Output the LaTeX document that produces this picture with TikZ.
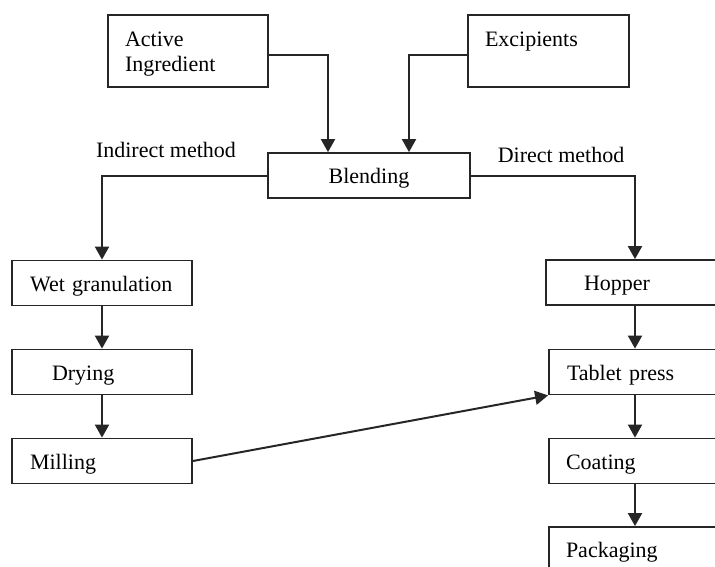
\documentclass[tikz,border=0pt]{standalone}
\usepackage{fontspec}
\setmainfont{Liberation Serif}
\usetikzlibrary{arrows.meta}
\begin{document}
\begin{tikzpicture}[x=1pt,y=-1pt,
    stagebox/.style={draw=black!85, line width=1.8pt, rectangle, inner sep=0pt,
      minimum width=180pt, minimum height=45pt, text width=180pt, align=left,
      text height=20pt, text depth=4pt, font=\fontsize{22}{25}\selectfont},
    twoline/.style={text height=20pt, text depth=30pt},
    flow/.style={draw=black!85, line width=2pt, -{Triangle[width=14pt,length=13pt]}},
    methodtag/.style={font=\fontsize{22}{25}\selectfont, inner sep=0pt}]
  \clip (0,0) rectangle (715,566);
  % inputs
  \node[stagebox, twoline, minimum width=160pt, minimum height=72pt, text width=160pt] (active) at (188,51)
    {\hspace*{17pt}Active\\\hspace*{17pt}Ingredient};
  \node[stagebox, twoline, minimum width=161pt, minimum height=72pt, text width=161pt] (excip) at (548.5,51)
    {\hspace*{17pt}Excipients\\\mbox{}};
  \node[stagebox, minimum width=202pt, text width=202pt, align=center] (blend) at (369,175.5) {Blending};
  % indirect route
  \node[stagebox] (wet) at (102,283) {\hspace*{18pt}Wet granulation};
  \node[stagebox] (dry) at (102,372) {\hspace*{40pt}Drying};
  \node[stagebox] (mill) at (102,461) {\hspace*{18pt}Milling};
  % direct route
  \node[stagebox, minimum width=178pt, text width=178pt] (hopper) at (635,282.5) {\hspace*{38pt}Hopper};
  \node[stagebox, minimum width=172pt, text width=172pt] (tablet) at (635,372) {\hspace*{18pt}Tablet press};
  \node[stagebox, minimum width=172pt, text width=172pt] (coat) at (635,461) {\hspace*{17pt}Coating};
  \node[stagebox, minimum width=172pt, text width=172pt] (pack) at (635,549.5) {\hspace*{17pt}Packaging};
  \node[methodtag] (indirect) at (166,150) {Indirect method};
  \node[methodtag] (direct) at (561,155) {Direct method};
  % connectors
  \draw[flow] ([yshift=-4pt]active.east) -| ([xshift=-41pt]blend.north);
  \draw[flow] ([yshift=-4pt]excip.west) -| ([xshift=40pt]blend.north);
  \draw[flow] (blend.west) -| (wet.north);
  \draw[flow] (blend.east) -| (hopper.north);
  \draw[flow] (wet) -- (dry);
  \draw[flow] (dry) -- (mill);
  \draw[flow] (hopper) -- (tablet);
  \draw[flow] (tablet) -- (coat);
  \draw[flow] (coat) -- (pack);
  \draw[flow] (mill.east) -- (tablet.south west);
\end{tikzpicture}
\end{document}
